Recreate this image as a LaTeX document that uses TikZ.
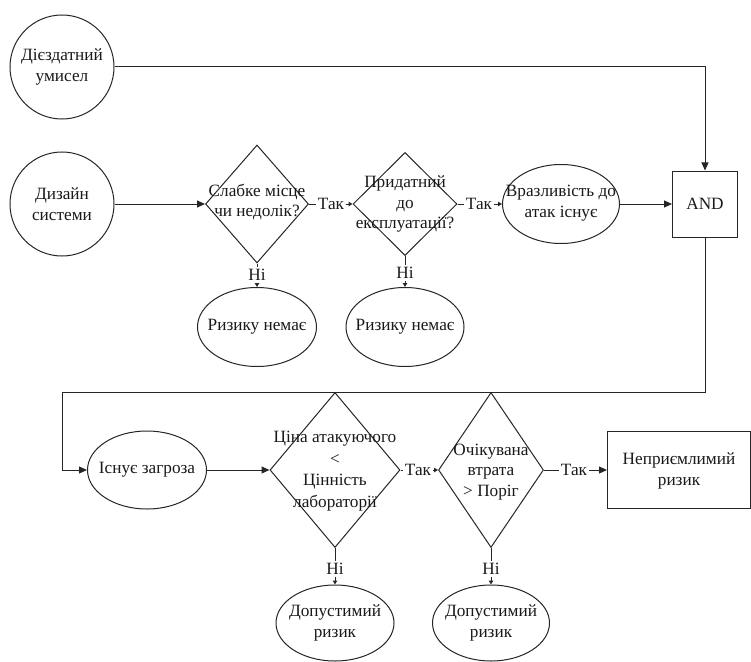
\documentclass[tikz,border=0pt]{standalone}
\usepackage{fontspec}
\setmainfont{Liberation Serif}
\usetikzlibrary{shapes.geometric,arrows.meta}
\begin{document}
\begin{tikzpicture}[x=1bp,y=-1bp,
  line width=1bp,
  shp/.style={draw=black!85, line width=1bp, inner sep=0pt, fill=white},
  circ/.style={shp, circle, minimum size=104bp},
  ell/.style 2 args={shp, ellipse, minimum width=#1bp, minimum height=#2bp},
  dia/.style 2 args={shp, diamond, minimum width=#1bp, minimum height=#2bp},
  rect/.style 2 args={shp, rectangle, minimum width=#1bp, minimum height=#2bp},
  txt/.style={font=\fontsize{17.3}{20.5}\selectfont, align=center, inner sep=0pt, text=black!90},
  lbl/.style={font=\fontsize{17.3}{20}\selectfont, inner sep=1.5bp, text=black!90},
  wire/.style={draw=black!85, line width=1bp},
  arr/.style={wire, -{Triangle[length=8bp,width=7bp]}},
  tip/.style={wire, -{Triangle[length=4bp,width=4.5bp]}}
]
\useasboundingbox (0,0) rectangle (751,662);

% shapes
\node[circ] (c1) at (62,67) {};
\node[txt] (c1t) at (c1) {Дієздатний\\умисел};
\node[circ] (c2) at (62,204) {};
\node[txt] (c2t) at (c2) {Дизайн\\системи};

\node[dia={103}{118}] (d1) at (257,204) {};
\node[txt] (d1t) at (257,202) {Слабке місце\\чи недолік?};
\node[dia={104}{103}] (d2) at (405,204) {};
\node[txt] (d2t) at (405,204) {Придатний\\до\\експлуатації?};
\node[ell={117}{79}] (e1) at (561,204) {};
\node[txt] (e1t) at (561,203) {Вразливість до\\атак існує};
\node[rect={65}{66}] (and) at (705,204) {};
\node[txt] (andt) at (and) {AND};

\node[ell={119}{79}] (n1) at (257,327) {};
\node[txt] (n1t) at (n1) {Ризику немає};
\node[ell={118}{79}] (n2) at (405,327) {};
\node[txt] (n2t) at (n2) {Ризику немає};

\node[ell={119}{78}] (e2) at (147,470) {};
\node[txt] (e2t) at (e2) {Існує загроза};
\node[dia={130}{155}] (d3) at (335,470) {};
\node[txt, font=\fontsize{17.3}{21.7}\selectfont] (d3t) at (335,471) {Ціна атакуючого\\<\\Цінність\\лабораторії};
\node[dia={105}{155}] (d4) at (491,470) {};
\node[txt] (d4t) at (491,472) {Очікувана\\втрата\\> Поріг};
\node[rect={143}{77}] (box) at (679,470) {};
\node[txt] (boxt) at (679,471) {Неприємлимий\\ризик};

\node[ell={118}{76}] (a1) at (335,623) {};
\node[txt] (a1t) at (a1) {Допустимий\\ризик};
\node[ell={117}{76}] (a2) at (491,623) {};
\node[txt] (a2t) at (a2) {Допустимий\\ризик};

% branch labels
\node[lbl] (y1) at (331,204) {Так};
\node[lbl] (y2) at (479,204) {Так};
\node[lbl] (y3) at (418,470) {Так};
\node[lbl] (y4) at (574,470) {Так};
\node[lbl] (no1) at (257,275) {Ні};
\node[lbl] (no2) at (405,273) {Ні};
\node[lbl] (no3) at (335,569) {Ні};
\node[lbl] (no4) at (491,569) {Ні};

% connectors
\draw[arr] (c1.east) -| (and.north);
\draw[arr] (c2.east) -- (d1.west);
\draw[wire] (d1.east) -- (y1.west);
\draw[tip] (y1.east) -- (d2.west);
\draw[wire] (d2.east) -- (y2.west);
\draw[tip] (y2.east) -- (e1.west);
\draw[arr] (e1.east) -- (and.west);
\draw[wire] (d1.south) -- (no1.north);
\draw[tip] (no1.south) -- (n1.north);
\draw[wire] (d2.south) -- (no2.north);
\draw[tip] (no2.south) -- (n2.north);

\coordinate (k1) at (705,392);
\coordinate (k2) at (62,392);
\draw[arr] (and.south) -- (k1) -- (k2) |- (e2.west);
\draw[arr] (e2.east) -- (d3.west);
\draw[wire] (d3.east) -- (y3.west);
\draw[tip] (y3.east) -- (d4.west);
\draw[wire] (d4.east) -- (y4.west);
\draw[arr] (y4.east) -- (box.west);
\draw[wire] (d3.south) -- (no3.north);
\draw[tip] (no3.south) -- (a1.north);
\draw[wire] (d4.south) -- (no4.north);
\draw[tip] (no4.south) -- (a2.north);
\end{tikzpicture}
\end{document}
